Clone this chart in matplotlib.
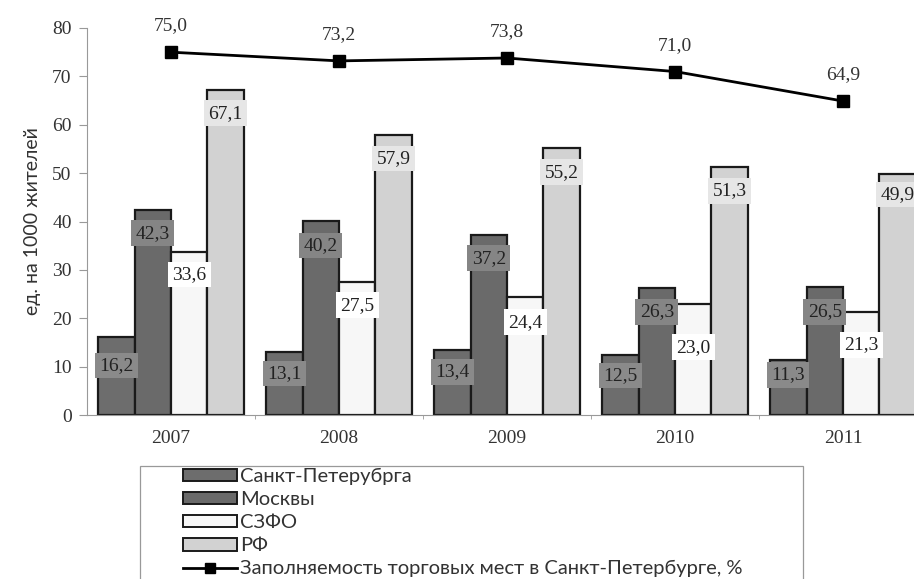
import matplotlib
matplotlib.use("Agg")
import matplotlib.pyplot as plt
import numpy as np
from matplotlib.patches import Patch, Rectangle
from matplotlib.lines import Line2D

years = ["2007", "2008", "2009", "2010", "2011"]
spb = [16.2, 13.1, 13.4, 12.5, 11.3]
msk = [42.3, 40.2, 37.2, 26.3, 26.5]
szfo = [33.6, 27.5, 24.4, 23.0, 21.3]
rf = [67.1, 57.9, 55.2, 51.3, 49.9]
fill_rate = [75.0, 73.2, 73.8, 71.0, 64.9]

series_names = ["Санкт-Петерубргa", "Москвы", "СЗФО", "РФ"]
line_name = "Заполняемость торговых мест в Санкт-Петербурге, %"
ylabel = "ед. на 1000 жителей"


def fmt(v):
    return f"{v:.1f}".replace(".", ",")


serif = ["Liberation Serif", "DejaVu Serif"]
sans = ["Lato", "DejaVu Sans"]
W, H = 914, 579

fig = plt.figure(figsize=(W / 100, H / 100), dpi=100)
ax = fig.add_axes([87 / W, 1 - 415 / H, 840 / W, 387 / H])

x = np.arange(len(years))
w = 0.217
series = [spb, msk, szfo, rf]
bar_colors = ["#6d6d6d", "#6a6a6a", "#f7f7f7", "#d2d2d2"]
box_colors = ["#8a8a8a", "#858585", "#ffffff", "#e6e6e6"]
label_drop = [[6.0, 4.5, 4.5, 4.3, 3.0],
              [4.7, 5.2, 4.8, 5.0, 5.2],
              [4.6, 4.8, 5.2, 9.0, 6.8],
              [4.7, 4.9, 5.0, 5.0, 4.3]]

for i, vals in enumerate(series):
    xs = x + (i - 1.5) * w
    ax.bar(xs, vals, w, color=bar_colors[i], edgecolor="#1a1a1a", linewidth=1.6,
           zorder=2)
    for j, v in enumerate(vals):
        ax.text(xs[j], v - label_drop[i][j], fmt(v), ha="center", va="center",
                family=serif, fontsize=14, color="#222222", zorder=4,
                bbox=dict(boxstyle="square,pad=0.22", fc=box_colors[i], ec="none"))

ax.plot(x, fill_rate, color="black", lw=2, marker="s", ms=9, zorder=5)
for j, v in enumerate(fill_rate):
    ax.annotate(fmt(v), (x[j], v), xytext=(0, 19), textcoords="offset points",
                ha="center", va="center", family=serif, fontsize=14,
                color="#333333")

ax.set_xlim(-0.5, 4.5)
ax.set_ylim(0, 80)
ax.set_yticks(range(0, 81, 10))
ax.set_xticks(x)
ax.set_xticklabels(years, family=serif, fontsize=14, color="#333333")
for t in ax.get_yticklabels():
    t.set_family(serif)
    t.set_fontsize(14)
    t.set_color("#333333")
ax.set_xticks(np.arange(0.5, 4.5, 1), minor=True)
ax.tick_params(axis="x", which="major", length=0, pad=11)
ax.tick_params(axis="x", which="minor", length=3, color="#999999")
ax.tick_params(axis="y", length=6, color="#999999", pad=5)
ax.set_ylabel(ylabel, family=sans, fontsize=14, color="#333333", labelpad=8)
ax.spines["top"].set_visible(False)
ax.spines["right"].set_visible(False)
ax.spines["left"].set_color("#999999")
ax.spines["bottom"].set_color("#999999")

# legend box runs off the bottom of the picture
fig.add_artist(Rectangle((140 / W, -0.05), (803 - 140) / W, 1 - 466 / H + 0.05,
                         transform=fig.transFigure, fill=False,
                         edgecolor="#999999", linewidth=0.9))

handles = [Patch(facecolor=bar_colors[i], edgecolor="#1a1a1a", linewidth=1.4)
           for i in range(4)]
handles.append(Line2D([0], [0], color="black", lw=2, marker="s", ms=7))
leg = fig.legend(handles, series_names + [line_name], loc="upper left",
                 bbox_to_anchor=(183 / W, 1 - 468 / H),
                 prop={"family": sans, "size": 14.5}, frameon=False,
                 handlelength=2.7, handleheight=0.6,
                 handletextpad=0.15, labelspacing=0.3, borderpad=0,
                 borderaxespad=0)
for t in leg.get_texts():
    t.set_color("#333333")

fig.savefig("out.png", dpi=100)
